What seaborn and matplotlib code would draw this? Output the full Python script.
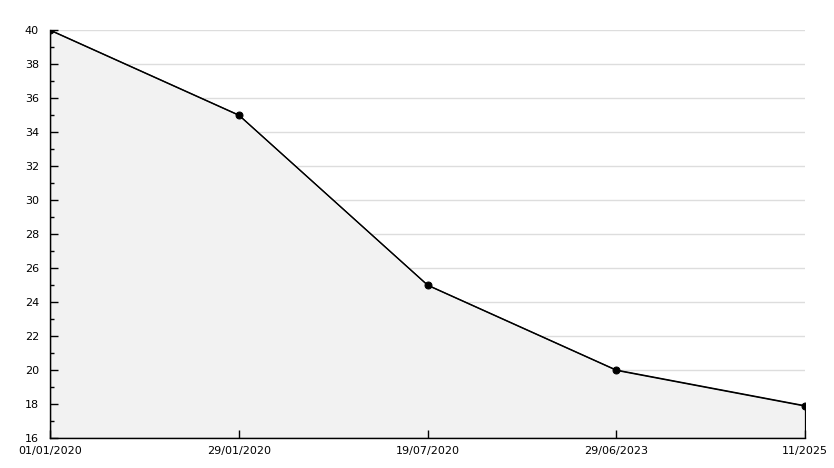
import numpy as np
import pandas as pd
import matplotlib
matplotlib.use('Agg')
import matplotlib.pyplot as plt
from matplotlib.ticker import MultipleLocator
import seaborn as sns

sns.set_style("white")
plt.rcParams['font.family'] = ['DejaVu Sans']

dates = ['01/01/2020', '29/01/2020', '19/07/2020', '29/06/2023', '11/2025']
values = [40, 35, 25, 20, 17.9]
grid_levels = list(range(16, 41, 2))

df = pd.DataFrame({'pos': range(len(dates)), 'value': values})

fig = plt.figure(figsize=(8.34, 4.68), dpi=100)
ax = fig.add_axes([50 / 834, 1 - 438 / 468, 755 / 834, 408 / 468])

# grid first, then the fill on top of it, ticks on top of everything
for lvl in grid_levels:
    ax.axhline(lvl, color='#dddddd', linewidth=1, zorder=0.2)
ax.fill_between(df['pos'], 16, df['value'], color='#f2f2f2', edgecolor='black',
                linewidth=0.9, zorder=0.4)
sns.lineplot(data=df, x='pos', y='value', ax=ax, color='black', linewidth=0.9,
             marker='o', markersize=5, markeredgecolor='black', zorder=3)

ax.set_xlim(0, len(dates) - 1)
ax.set_ylim(16, 40)
ax.yaxis.set_major_locator(MultipleLocator(2))
ax.yaxis.set_minor_locator(MultipleLocator(1))
ax.set_xticks(df['pos'])
ax.set_xticklabels(dates)
ax.grid(False)
ax.set_axisbelow(False)

for side in ['top', 'right']:
    ax.spines[side].set_visible(False)
for side in ['left', 'bottom']:
    ax.spines[side].set_color('black')
    ax.spines[side].set_linewidth(1)

ax.tick_params(axis='y', which='major', direction='in', length=6, width=1,
               labelsize=8, pad=8, left=True, color='black', labelcolor='black')
ax.tick_params(axis='y', which='minor', direction='in', length=3, width=1,
               left=True, color='black')
ax.tick_params(axis='x', which='major', direction='in', length=6, width=1,
               labelsize=8, pad=6, bottom=True, color='black', labelcolor='black')
ax.set_xlabel('')
ax.set_ylabel('')

fig.savefig('out.png', dpi=100)
